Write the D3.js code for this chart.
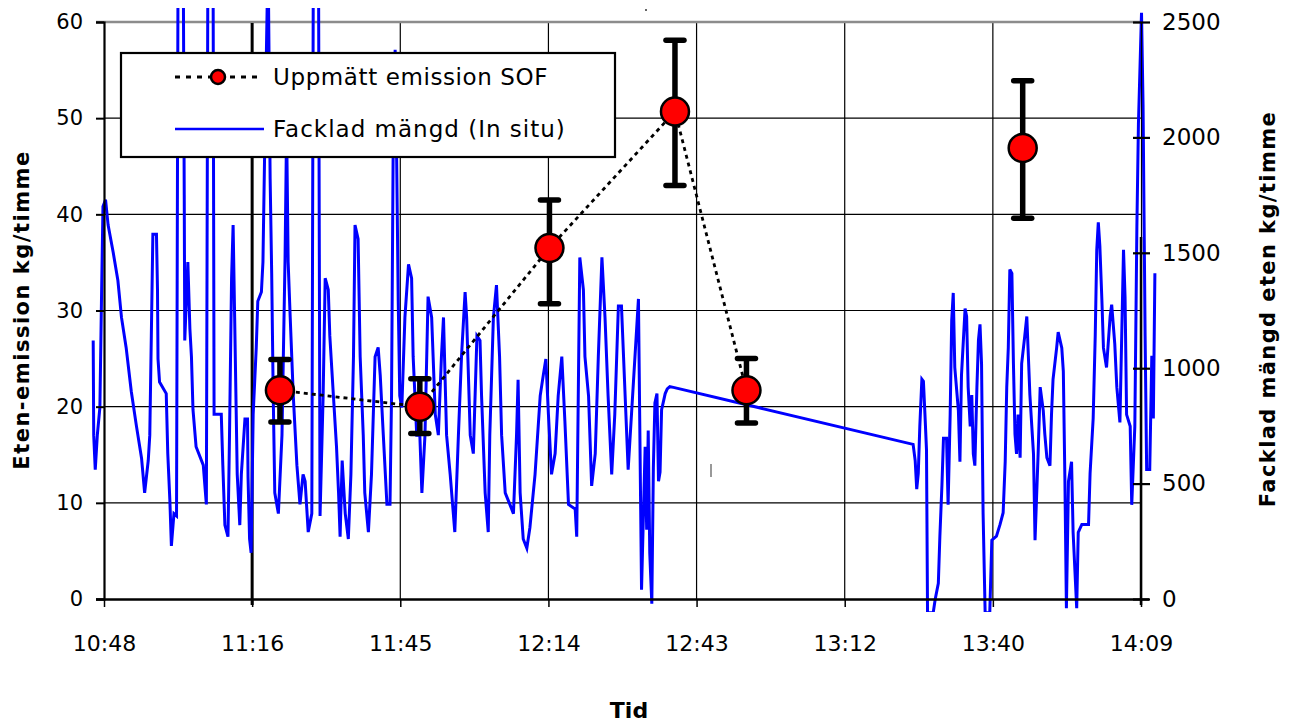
<!DOCTYPE html>
<html>
<head>
<meta charset="utf-8">
<script src="https://cdn.jsdelivr.net/npm/d3@7"></script>
<style>
  html, body { margin: 0; padding: 0; background: #fff; }
  svg { display: block; }
  text { font-family: "DejaVu Sans", "Liberation Sans", sans-serif; fill: #000; }
</style>
</head>
<body>
<svg id="chart" width="1293" height="724"></svg>
<script>
// ---------- DATA ----------
// x-axis: minutes after 10:48
const xTickMinutes = [0, 28.8, 57.6, 86.4, 115.2, 144, 172.8, 201.6];
const xTickLabels = ["10:48", "11:16", "11:45", "12:14", "12:43", "13:12", "13:40", "14:09"];
const leftTicks = [0, 10, 20, 30, 40, 50, 60];
const rightTicks = [0, 500, 1000, 1500, 2000, 2500];

// Uppmätt emission SOF (kg/timme, left axis)
const sofTime  = [34.2, 61.4, 86.6, 111.0, 124.9, 178.6];
const sofValue = [21.7, 20.0, 36.5, 50.7, 21.7, 46.9];
const sofLow   = [18.4, 17.2, 30.7, 43.0, 18.3, 39.6];
const sofHigh  = [24.9, 22.9, 41.5, 58.1, 25.0, 53.9];
const sofGroup = [1, 1, 1, 1, 1, 2];   // dotted line joins points of the same group

// Facklad mängd (In situ) (kg/timme, right axis); minutes after 10:48
const flareTime = [
  -2.1, -2.0, -1.7, -1.3, -0.8, -0.5, -0.2, 0.3, 0.8, 1.8,
  2.7, 3.4, 4.3, 5.3, 6.3, 7.3, 7.9, 8.6, 8.9, 9.2,
  9.5, 10.2, 10.4, 10.5, 10.8, 12.1, 12.4, 12.8, 13.1, 13.6,
  14.1, 14.4, 15.4, 15.6, 15.7, 16.3, 16.7, 17.0, 17.3, 17.9,
  19.3, 19.9, 20.2, 21.2, 21.4, 22.8, 23.1, 23.5, 24.1, 24.4,
  24.8, 25.1, 25.4, 25.9, 26.4, 26.7, 27.4, 27.9, 28.0, 28.3,
  28.6, 29.0, 29.6, 29.9, 30.6, 30.9, 31.2, 31.9, 32.3, 32.6,
  32.9, 33.2, 33.9, 34.6, 35.2, 35.5, 35.8, 36.2, 36.8, 37.5,
  38.1, 38.7, 39.1, 39.7, 40.4, 40.7, 41.7, 42.0, 42.6, 43.0,
  43.6, 43.9, 44.6, 45.2, 45.6, 45.9, 46.3, 46.9, 47.5, 48.0,
  48.5, 48.8, 49.4, 49.8, 50.4, 50.7, 51.4, 52.0, 52.7, 53.3,
  53.7, 54.3, 55.0, 55.6, 55.9, 56.2, 56.6, 56.9, 57.2, 57.5,
  57.9, 58.5, 59.2, 59.8, 60.1, 60.8, 61.4, 61.8, 62.4, 63.0,
  63.7, 64.4, 65.0, 65.6, 66.0, 66.6, 67.3, 68.2, 68.9, 69.5,
  70.2, 70.5, 71.2, 71.8, 72.5, 73.1, 73.4, 74.1, 74.7, 75.0,
  75.7, 76.3, 76.9, 77.3, 78.0, 78.9, 79.6, 80.2, 80.5, 80.9,
  81.5, 82.2, 82.8, 83.8, 84.8, 85.4, 85.9, 86.4, 87.0, 87.7,
  88.3, 89.0, 89.6, 90.3, 91.6, 91.9, 92.2, 92.5, 93.2, 93.5,
  94.2, 94.8, 95.5, 96.1, 96.8, 97.4, 98.0, 98.7, 99.3, 100.0,
  100.6, 101.9, 103.9, 104.5, 105.2, 105.5, 105.8, 106.1, 106.5, 106.8,
  107.1, 107.5, 107.8, 108.1, 108.4, 108.7, 109.1, 109.5, 110.0, 110.7,
  157.3, 157.7, 158.0, 158.3, 158.6, 159.0, 159.3, 159.6, 159.9, 160.1,
  161.2, 161.6, 162.2, 162.5, 162.9, 163.2, 163.8, 164.1, 164.5, 164.8,
  165.1, 165.4, 166.1, 166.4, 166.7, 167.4, 167.7, 168.0, 168.4, 168.7,
  169.0, 169.3, 169.7, 170.0, 170.3, 170.6, 170.9, 171.3, 172.2, 172.6,
  173.5, 174.2, 174.8, 175.2, 175.5, 175.8, 176.1, 176.5, 176.8, 177.1,
  177.4, 177.7, 178.1, 178.4, 179.0, 179.4, 179.7, 180.0, 180.7, 181.0,
  181.6, 182.0, 182.6, 182.9, 183.3, 183.9, 184.2, 184.5, 185.2, 185.5,
  186.2, 186.5, 186.8, 187.1, 187.5, 188.1, 188.4, 189.1, 189.4, 190.1,
  191.4, 191.7, 192.3, 192.7, 193.0, 193.3, 193.6, 194.0, 194.3, 194.9,
  195.6, 195.9, 196.5, 196.9, 197.5, 198.2, 198.5, 198.8, 199.5, 199.8,
  200.4, 200.8, 201.1, 201.7, 202.0, 202.4, 202.7, 203.3, 203.7, 204.0,
  204.3
];
const flareValue = [
  1120, 710, 560, 710, 830, 1280, 1700, 1730, 1620, 1500,
  1380, 1220, 1090, 900, 750, 610, 460, 600, 710, 1140,
  1580, 1580, 1340, 1040, 940, 890, 630, 430, 230, 370,
  360, 2800, 2800, 1750, 1120, 1460, 1170, 1050, 820, 660,
  580, 410, 2800, 2800, 800, 800, 580, 320, 270, 710,
  1390, 1620, 1220, 540, 320, 540, 780, 780, 530, 260,
  200, 800, 1090, 1290, 1330, 1460, 1890, 2800, 1820, 1410,
  880, 460, 370, 710, 1480, 2050, 1460, 1220, 880, 580,
  410, 540, 510, 290, 370, 2800, 2800, 360, 880, 1390,
  1340, 1140, 880, 660, 460, 270, 600, 370, 260, 540,
  1050, 1620, 1560, 1050, 710, 460, 290, 540, 1050, 1090,
  970, 710, 410, 410, 880, 1900, 2380, 1900, 1290, 880,
  830, 1220, 1450, 1390, 1050, 710, 710, 460, 710, 1310,
  1220, 800, 710, 1050, 1220, 710, 540, 290, 710, 1050,
  1330, 1220, 710, 630, 1140, 1120, 880, 460, 290, 710,
  1220, 1360, 1050, 710, 460, 410, 370, 710, 950, 460,
  260, 220, 310, 540, 880, 970, 1040, 800, 540, 630,
  880, 1050, 770, 410, 390, 270, 880, 1480, 1340, 1050,
  880, 490, 630, 1050, 1480, 1220, 880, 540, 800, 1270,
  1270, 560, 1300, 40, 660, 300, 730, 200, -20, 570,
  850, 890, 510, 550, 820, 850, 890, 910, 920, 917,
  670, 600, 476, 544, 748, 952, 943, 799, 646, -60,
  -60, 0, 68, 272, 493, 697, 697, 408, 799, 1207,
  1326, 1003, 816, 595, 969, 1258, 1224, 918, 748, 884,
  629, 578, 918, 1122, 1190, 1020, 374, -60, -60, 255,
  272, 323, 374, 595, 918, 1088, 1428, 1411, 1020, 714,
  629, 799, 612, 1020, 1139, 1224, 1054, 884, 629, 255,
  629, 918, 816, 714, 612, 578, 799, 952, 1088, 1156,
  1088, 986, 527, -40, 510, 595, 289, -40, 289, 323,
  323, 544, 782, 1139, 1513, 1632, 1530, 1292, 1088, 1003,
  1224, 1275, 1105, 918, 765, 1513, 1309, 799, 748, 408,
  748, 1615, 2057, 2540, 2142, 1139, 561, 561, 1054, 782,
  1411
];

// ---------- LAYOUT ----------
const svg = d3.select("#chart");
const X0 = 104, X1 = 1141, Y0 = 599, Y1 = 22;

const x = d3.scaleLinear().domain([0, 201.6]).range([X0, X1]);
const yL = d3.scaleLinear().domain([0, 60]).range([Y0, Y1]);
const yR = d3.scaleLinear().domain([0, 2500]).range([Y0, Y1]);

// clip region for the plotted series (Excel-like plot area)
svg.append("defs").append("clipPath").attr("id", "plotclip")
  .append("rect").attr("x", 88).attr("y", 8).attr("width", 1072).attr("height", 604);

// ---------- GRID ----------
const grid = svg.append("g");
grid.selectAll("line.h").data(leftTicks.filter(d => d > 0 && d < 60)).enter().append("line")
  .attr("x1", X0).attr("x2", X1)
  .attr("y1", d => yL(d)).attr("y2", d => yL(d))
  .attr("stroke", "#000").attr("stroke-width", 1.2);
grid.selectAll("line.v").data(xTickMinutes.slice(1, -1)).enter().append("line")
  .attr("x1", d => x(d)).attr("x2", d => x(d))
  .attr("y1", Y1).attr("y2", Y0)
  .attr("stroke", "#000").attr("stroke-width", 1.2);
// top border of plot area
grid.append("line").attr("x1", X0 - 8).attr("x2", X1).attr("y1", Y1).attr("y2", Y1)
  .attr("stroke", "#8c8c8c").attr("stroke-width", 2.5);
// heavier line at 11:16
grid.append("line").attr("x1", x(xTickMinutes[1])).attr("x2", x(xTickMinutes[1]))
  .attr("y1", Y1 + 1).attr("y2", Y0 + 6).attr("stroke", "#000").attr("stroke-width", 3);

// ---------- BLUE SERIES ----------
const flare = flareTime.map((t, i) => ({ t, v: flareValue[i] }));
svg.append("path")
  .attr("clip-path", "url(#plotclip)")
  .attr("d", d3.line().x(d => x(d.t)).y(d => yR(d.v))(flare))
  .attr("fill", "none").attr("stroke", "#0000ff").attr("stroke-width", 3)
  .attr("stroke-linejoin", "miter");

// ---------- AXES ----------
const axL = svg.append("g").attr("transform", `translate(${X0},0)`)
  .call(d3.axisLeft(yL).tickValues(leftTicks).tickSize(8).tickPadding(13).tickFormat(d3.format("d")));
axL.select(".domain").attr("stroke-width", 2.2);
axL.selectAll(".tick line").attr("stroke-width", 2);
axL.selectAll("text").attr("font-size", 21).attr("font-family", "DejaVu Sans").attr("fill", "#222");

const axB = svg.append("g").attr("transform", `translate(0,${Y0})`)
  .call(d3.axisBottom(x).tickValues(xTickMinutes).tickSize(8).tickPadding(28)
    .tickFormat((d, i) => xTickLabels[i]));
axB.select(".domain").attr("stroke-width", 2.6).attr("d", `M${X0 - 8},0.5H${X1 + 8}`);
axB.selectAll(".tick line").attr("stroke-width", 1.5);
axB.selectAll("text").attr("font-size", 22).attr("font-family", "DejaVu Sans").attr("fill", "#111");

const axR = svg.append("g").attr("transform", `translate(${X1},0)`)
  .call(d3.axisRight(yR).tickValues(rightTicks).tickSize(9).tickPadding(12).tickFormat(d3.format("d")));
axR.select(".domain").attr("stroke-width", 1.2);
axR.selectAll(".tick line").attr("x1", -8).attr("stroke-width", 2.2);
axR.selectAll("text").attr("font-size", 23).attr("font-family", "DejaVu Sans").attr("fill", "#222");
axR.append("line").attr("x1", 0).attr("x2", 0).attr("y1", 237).attr("y2", Y0 + 6)
  .attr("stroke", "#000").attr("stroke-width", 2.5);

// ---------- SOF SERIES ----------
const sof = sofTime.map((t, i) => ({ t, v: sofValue[i], lo: sofLow[i], hi: sofHigh[i], g: sofGroup[i] }));
const groups = d3.groups(sof, d => d.g);
svg.append("g").selectAll("path").data(groups).enter().append("path")
  .attr("d", ([, pts]) => d3.line().x(d => x(d.t)).y(d => yL(d.v))(pts))
  .attr("fill", "none").attr("stroke", "#000").attr("stroke-width", 2.8)
  .attr("stroke-dasharray", "4,4");

const eb = svg.append("g");
eb.selectAll("line.bar").data(sof).enter().append("line")
  .attr("x1", d => x(d.t)).attr("x2", d => x(d.t))
  .attr("y1", d => yL(d.lo)).attr("y2", d => yL(d.hi))
  .attr("stroke", "#000").attr("stroke-width", 5.5);
["lo", "hi"].forEach(k => {
  eb.selectAll("line.cap" + k).data(sof).enter().append("line")
    .attr("x1", d => x(d.t) - 9).attr("x2", d => x(d.t) + 9)
    .attr("y1", d => yL(d[k])).attr("y2", d => yL(d[k]))
    .attr("stroke", "#000").attr("stroke-width", 5.5).attr("stroke-linecap", "round");
});
eb.selectAll("circle").data(sof).enter().append("circle")
  .attr("cx", d => x(d.t)).attr("cy", d => yL(d.v)).attr("r", 14)
  .attr("fill", "#ff0000").attr("stroke", "#000").attr("stroke-width", 2.5);

// ---------- LEGEND ----------
const lg = svg.append("g");
lg.append("rect").attr("x", 121).attr("y", 53).attr("width", 494).attr("height", 104)
  .attr("fill", "#fff").attr("stroke", "#000").attr("stroke-width", 2.2);
lg.append("line").attr("x1", 175).attr("x2", 257).attr("y1", 77).attr("y2", 77)
  .attr("stroke", "#000").attr("stroke-width", 2.8).attr("stroke-dasharray", "5,6");
lg.append("circle").attr("cx", 218).attr("cy", 77).attr("r", 7)
  .attr("fill", "#ff0000").attr("stroke", "#000").attr("stroke-width", 2.5);
lg.append("text").attr("x", 273).attr("y", 77).attr("dy", "0.35em")
  .attr("font-size", 23).attr("letter-spacing", 0.6).attr("fill", "#222").text("Uppmätt emission SOF");
lg.append("line").attr("x1", 175).attr("x2", 264).attr("y1", 129).attr("y2", 129)
  .attr("stroke", "#0000ff").attr("stroke-width", 2.6);
lg.append("text").attr("x", 273).attr("y", 129).attr("dy", "0.35em")
  .attr("font-size", 23).attr("letter-spacing", 1).attr("fill", "#222").text("Facklad mängd (In situ)");

// ---------- TITLES ----------
svg.append("text").attr("transform", "translate(22,310) rotate(-90)")
  .attr("text-anchor", "middle").attr("dy", "0.35em").attr("letter-spacing", 1.5)
  .attr("font-size", 21).attr("font-weight", "bold").text("Eten-emission kg/timme");
svg.append("text").attr("transform", "translate(1268,309) rotate(-90)")
  .attr("text-anchor", "middle").attr("dy", "0.35em").attr("letter-spacing", 1.4)
  .attr("font-size", 21).attr("font-weight", "bold").text("Facklad mängd eten kg/timme");
svg.append("text").attr("x", 629).attr("y", 710).attr("text-anchor", "middle").attr("dy", "0.35em")
  .attr("font-size", 22).attr("font-weight", "bold").text("Tid");

// small stray marks present in the original picture
svg.append("line").attr("x1", 711).attr("x2", 711).attr("y1", 464).attr("y2", 477)
  .attr("stroke", "#777").attr("stroke-width", 1.5);
svg.append("circle").attr("cx", 646).attr("cy", 10).attr("r", 1).attr("fill", "#333");
</script>
</body>
</html>
